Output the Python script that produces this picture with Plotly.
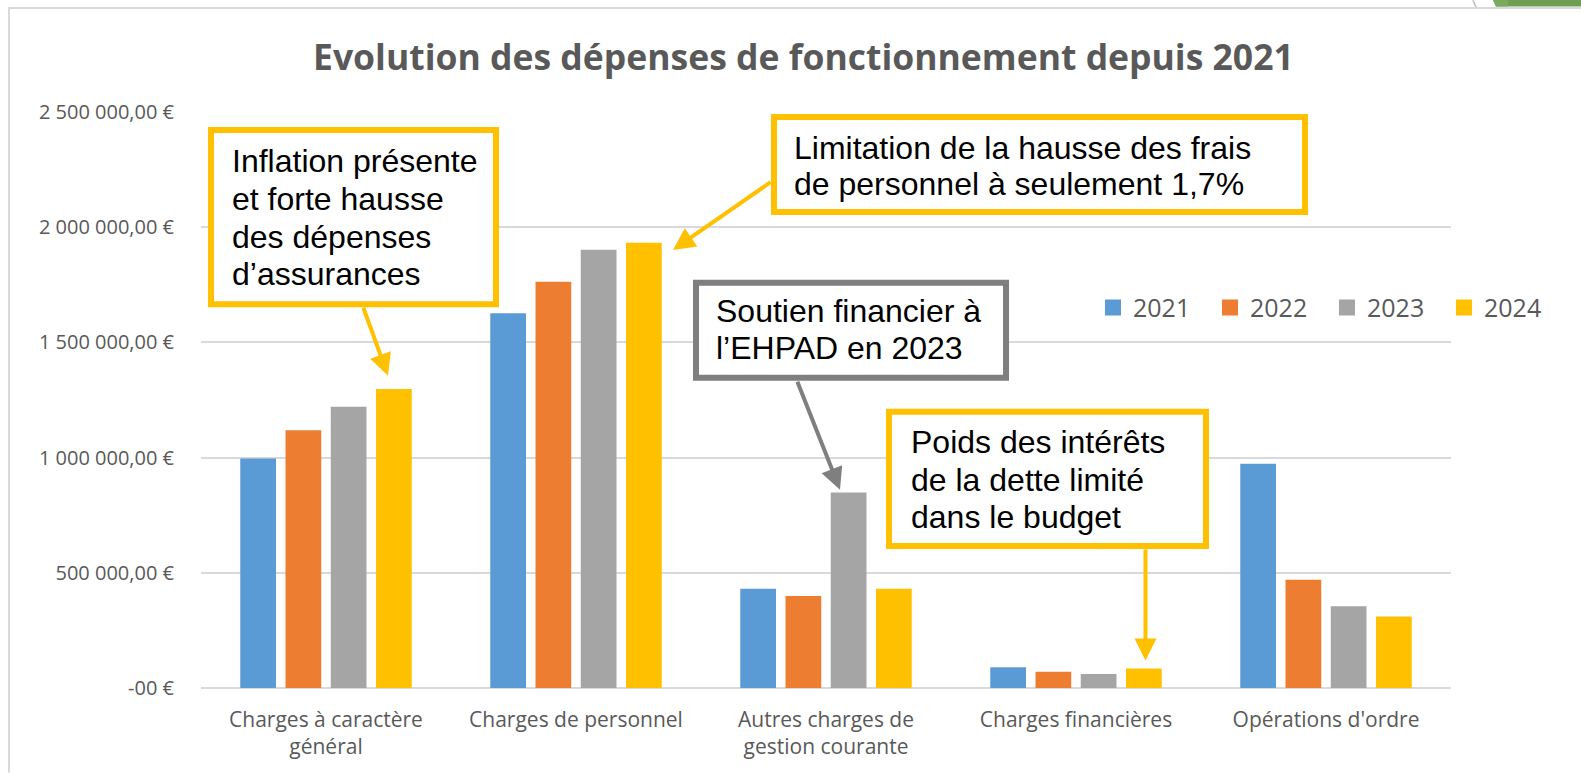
import plotly.graph_objects as go

# ---------------- data ----------------
categories = ["Charges à caractère<br>général", "Charges de personnel",
              "Autres charges de<br>gestion courante", "Charges financières",
              "Opérations d'ordre"]
years = ["2021", "2022", "2023", "2024"]
values_2021 = [996000, 1626000, 431000, 90000, 973000]
values_2022 = [1119000, 1763000, 399000, 71000, 470000]
values_2023 = [1221000, 1902000, 848000, 61000, 355000]
values_2024 = [1298000, 1933000, 431000, 85000, 310000]
series = [values_2021, values_2022, values_2023, values_2024]
tick_values = [0, 500000, 1000000, 1500000, 2000000, 2500000]
tick_labels = ["-00 €", "500 000,00 €", "1 000 000,00 €", "1 500 000,00 €",
               "2 000 000,00 €", "2 500 000,00 €"]
title_text = "Evolution des dépenses de fonctionnement depuis 2021"
callouts = [
    (["Inflation présente", "et forte hausse", "des dépenses", "d’assurances"], "#FFC000"),
    (["Limitation de la hausse des frais", "de personnel à seulement 1,7%"], "#FFC000"),
    (["Soutien financier à", "l’EHPAD en 2023"], "#7F7F7F"),
    (["Poids des intérêts", "de la dette limité", "dans le budget"], "#FFC000"),
]

colors = ["#5B9BD5", "#ED7D31", "#A5A5A5", "#FFC000"]

# ---------------- layout geometry (pixels) ----------------
W_FIG, H_FIG = 1581, 773
L, R, T, B = 201, 1451, 112, 688.5
PW, PH = R - L, B - T


def px(x):
    return (x - L) / PW


def py(y):
    return (B - y) / PH


fig = go.Figure()
for yr, vals, col in zip(years, series, colors):
    fig.add_trace(go.Bar(name=yr, x=categories, y=vals, marker_color=col,
                         marker_line_width=0, showlegend=False))
# legend entries with larger square symbols
for yr, col in zip(years, colors):
    fig.add_trace(go.Scatter(name=yr, x=[None], y=[None], mode="markers",
                             marker=dict(symbol="square", size=16, color=col)))

shapes = []
# chart border (top & left)
shapes.append(dict(type="line", xref="paper", yref="paper", x0=px(8), x1=px(1581),
                   y0=py(8), y1=py(8), line=dict(color="#D9D9D9", width=2), layer="below"))
shapes.append(dict(type="line", xref="paper", yref="paper", x0=px(9), x1=px(9),
                   y0=py(8), y1=py(773), line=dict(color="#D9D9D9", width=2), layer="below"))
# decorative top-right slide elements
shapes.append(dict(type="path", xref="paper", yref="paper",
                   path=f"M{px(1493)},{py(0)} L{px(1581)},{py(0)} L{px(1581)},{py(6.5)} L{px(1496)},{py(6.5)} Z",
                   fillcolor="#6E9E4F", line=dict(width=0)))
shapes.append(dict(type="path", xref="paper", yref="paper",
                   path=f"M{px(1493)},{py(0)} L{px(1508)},{py(0)} L{px(1508)},{py(6.5)} L{px(1496)},{py(6.5)} Z",
                   fillcolor="#7BA95E", line=dict(width=0)))
shapes.append(dict(type="line", xref="paper", yref="paper", x0=px(1473), x1=px(1476),
                   y0=py(0), y1=py(7), line=dict(color="#BFBFBF", width=1.5)))

# callout boxes (outer pixel edges) and text placement
boxes = [
    (208, 127, 499, 307.5, 230, [161, 199, 237, 274.5]),
    (771, 114, 1308, 215, 792, [148, 184]),
    (693, 280, 1009, 381, 714, [311.5, 348]),
    (886, 409, 1209, 549.5, 909, [442, 480, 517.5]),
]
annotations = []
bw = 6
for (x0, y0, x1, y1, tx, tys), (lines, col) in zip(boxes, callouts):
    shapes.append(dict(type="rect", xref="paper", yref="paper",
                       x0=px(x0 + bw / 2), x1=px(x1 - bw / 2),
                       y0=py(y0 + bw / 2), y1=py(y1 - bw / 2),
                       line=dict(color=col, width=bw), fillcolor="white"))
    for line_text, ty in zip(lines, tys):
        annotations.append(dict(xref="paper", yref="paper", x=px(tx), y=py(ty),
                                text=line_text, showarrow=False, xanchor="left",
                                yanchor="middle",
                                font=dict(family="Liberation Sans, Arial", size=32,
                                          color="black")))

# arrows: (tail, tip, color)
arrows = [
    ((363, 307), (388, 376), "#FFC000"),
    ((771, 182), (673, 250), "#FFC000"),
    ((797, 381), (840, 490), "#7F7F7F"),
    ((1145.5, 549), (1145.5, 661), "#FFC000"),
]
for (tx, ty), (hx, hy), col in arrows:
    annotations.append(dict(xref="paper", yref="paper", x=px(hx), y=py(hy),
                            ax=tx - hx, ay=ty - hy, axref="pixel", ayref="pixel",
                            text=" ", font=dict(size=1), showarrow=True,
                            arrowhead=2, arrowsize=1.1, arrowwidth=4,
                            arrowcolor=col, standoff=0, startstandoff=0,
                            borderpad=0))

# title
annotations.append(dict(xref="paper", yref="paper", x=px(803), y=py(56),
                        text=f"<b>{title_text}</b>", showarrow=False,
                        xanchor="center", yanchor="middle",
                        font=dict(family="Open Sans", size=35.5, color="#595959")))

fig.update_layout(
    width=W_FIG, height=H_FIG,
    margin=dict(l=L, r=W_FIG - R, t=T, b=H_FIG - B, pad=0, autoexpand=False),
    paper_bgcolor="white", plot_bgcolor="white",
    barmode="group", bargap=0.276, bargroupgap=0.21,
    font=dict(family="Open Sans", color="#595959"),
    shapes=shapes, annotations=annotations,
    legend=dict(orientation="h", x=px(1093), y=py(308), xanchor="left",
                yanchor="middle", entrywidth=72, entrywidthmode="pixels",
                font=dict(family="Open Sans", size=25, color="#595959"),
                bgcolor="rgba(0,0,0,0)", tracegroupgap=0),
    xaxis=dict(showgrid=False, showline=False, zeroline=False, ticks="",
               tickfont=dict(family="Open Sans", size=21, color="#595959"),
               ticklabelstandoff=17, fixedrange=True),
    yaxis=dict(range=[0, 2500000], tickvals=tick_values, ticktext=tick_labels,
               showgrid=True, gridcolor="#D9D9D9", gridwidth=1.5,
               zeroline=True, zerolinecolor="#D9D9D9", zerolinewidth=1.5,
               showline=False, ticks="", ticklabelstandoff=26,
               tickfont=dict(family="Open Sans", size=20, color="#595959"),
               fixedrange=True),
)

# page body has no margin so the figure fills the window exactly
fig.write_html("out.html", config={"displayModeBar": False},
               post_script="document.body.style.margin='0px';")
